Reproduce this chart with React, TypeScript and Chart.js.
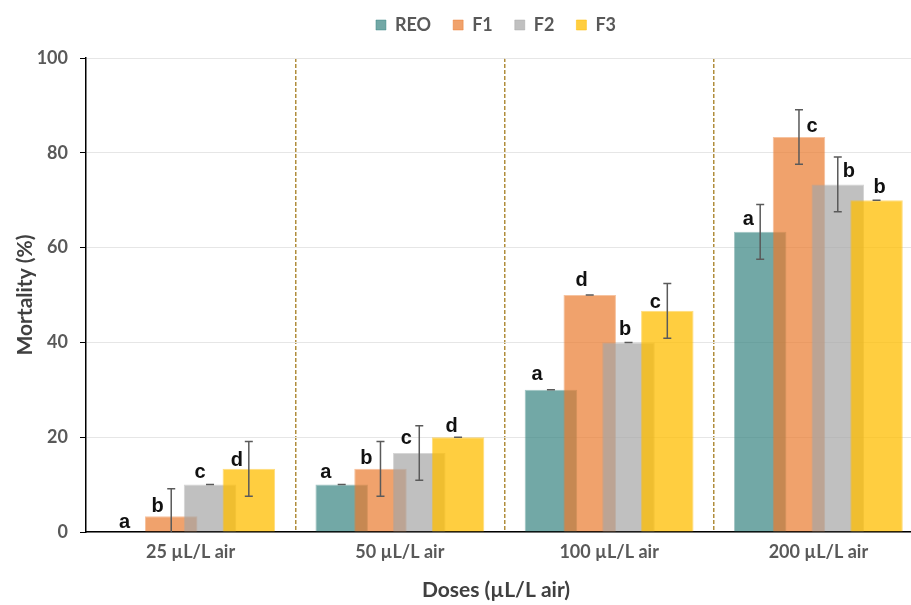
import React, { useEffect, useRef } from 'react';
import { Chart, registerables } from 'chart.js';

Chart.register(...registerables);

// ---------- data ----------
const doses = ['25 µL/L air', '50 µL/L air', '100 µL/L air', '200 µL/L air'];
const seriesNames = ['REO', 'F1', 'F2', 'F3'];

const reoValues = [0, 10, 30, 63.33];
const f1Values = [3.33, 13.33, 50, 83.33];
const f2Values = [10, 16.67, 40, 73.33];
const f3Values = [13.33, 20, 46.67, 70];

const reoErrors = [0, 0, 0, 5.77];
const f1Errors = [5.77, 5.77, 0, 5.77];
const f2Errors = [0, 5.77, 0, 5.77];
const f3Errors = [5.77, 0, 5.77, 0];

const reoLetters = ['a', 'a', 'a', 'a'];
const f1Letters = ['b', 'b', 'd', 'c'];
const f2Letters = ['c', 'c', 'b', 'b'];
const f3Letters = ['d', 'd', 'c', 'b'];

const yTickValues = [0, 20, 40, 60, 80, 100];

// ---------- styles ----------
const fills = ['rgba(54,131,128,0.7)', 'rgba(234,122,45,0.7)', 'rgba(165,165,165,0.7)', 'rgba(255,190,0,0.75)'];
const edges = ['rgba(54,131,128,0.45)', 'rgba(234,122,45,0.45)', 'rgba(165,165,165,0.45)', 'rgba(255,190,0,0.5)'];
// letter label placement (px offset from bar centre, px gap of baseline above bar top)
const letterDx = [
  [-8, -16, -14, -12],
  [-13.5, -14, -8, 13],
  [-10, -13, -3.5, 11],
  [-12, -6.5, -12, 3],
];
const letterGap = [
  [4, 6.5, 10, 6.7],
  [4, 5, 9, 5],
  [6.5, 9, 7, 7.7],
  [3, 5, 2.4, 7],
];

const valueSets = [reoValues, f1Values, f2Values, f3Values];
const errorSets = [reoErrors, f1Errors, f2Errors, f3Errors];
const letterSets = [reoLetters, f1Letters, f2Letters, f3Letters];

const FONT = 'Lato, "Open Sans", sans-serif';

const drawPlugin = {
  id: 'orderedBarsWithErrors',
  beforeDatasetsDraw(chart: any) {
    const { ctx, chartArea: a } = chart;
    const yScale = chart.scales.y;
    ctx.save();
    ctx.beginPath();
    ctx.rect(a.left, a.top, a.right - a.left, a.bottom - a.top);
    ctx.clip();
    // draw series in natural order so later series lie on top
    chart.data.datasets.forEach((_: any, i: number) => {
      if (chart.isDatasetVisible(i)) chart.getDatasetMeta(i).controller.draw();
    });
    // error bars
    ctx.strokeStyle = '#5a5a5a';
    ctx.lineWidth = 1.5;
    chart.data.datasets.forEach((_: any, i: number) => {
      const meta = chart.getDatasetMeta(i);
      meta.data.forEach((bar: any, j: number) => {
        const v = valueSets[i][j];
        const e = errorSets[i][j];
        if (i === 0 && v === 0) return;
        const x = bar.x;
        const yHi = yScale.getPixelForValue(v + e);
        const yLo = yScale.getPixelForValue(v - e);
        ctx.beginPath();
        ctx.moveTo(x, yHi);
        ctx.lineTo(x, yLo);
        ctx.moveTo(x - 4, yHi);
        ctx.lineTo(x + 4, yHi);
        ctx.moveTo(x - 4, yLo);
        ctx.lineTo(x + 4, yLo);
        ctx.stroke();
      });
    });
    ctx.restore();
    // letters
    ctx.save();
    ctx.fillStyle = '#111';
    ctx.font = 'bold 20px "Liberation Sans", Arial, sans-serif';
    ctx.textAlign = 'center';
    ctx.textBaseline = 'alphabetic';
    chart.data.datasets.forEach((_: any, i: number) => {
      const meta = chart.getDatasetMeta(i);
      meta.data.forEach((bar: any, j: number) => {
        const top = yScale.getPixelForValue(valueSets[i][j]);
        ctx.fillText(letterSets[i][j], bar.x + letterDx[i][j], top - letterGap[i][j]);
      });
    });
    ctx.restore();
    return false;
  },
};

export default function App() {
  const ref = useRef<HTMLCanvasElement | null>(null);

  useEffect(() => {
    if (!ref.current) return;
    Chart.defaults.font.family = FONT;
    const chart = new Chart(ref.current, {
      type: 'bar',
      data: {
        labels: doses,
        datasets: seriesNames.map((name, i) => ({
          label: name,
          data: valueSets[i],
          backgroundColor: fills[i],
          borderColor: edges[i],
          borderWidth: 1,
          categoryPercentage: 0.7415,
          barPercentage: 1.353,
        })),
      },
      options: {
        responsive: false,
        animation: false,
        devicePixelRatio: 1,
        layout: { padding: { top: -6, left: 0, right: 0, bottom: 0 } },
        plugins: {
          tooltip: { enabled: false },
          legend: {
            position: 'top',
            weight: 3000,
            labels: {
              boxWidth: 10,
              boxHeight: 10,
              padding: 22,
              color: '#595959',
              font: { family: FONT, size: 18, weight: 'bold' },
            },
          } as any,
          subtitle: {
            display: true,
            text: '',
            position: 'top',
            font: { size: 10, lineHeight: 1 },
            padding: { top: 0, bottom: 4 },
          },
          title: {
            display: true,
            text: 'Doses (µL/L air)',
            position: 'bottom',
            color: '#404040',
            font: { family: FONT, size: 21, weight: 'bold', lineHeight: 1.2 },
            padding: { top: 5.8, bottom: 2.4 },
          },
        },
        scales: {
          x: {
            type: 'category',
            grid: {
              offset: true,
              drawTicks: false,
              lineWidth: 1.5,
              color: (c: any) => (c.index === 0 || c.index === doses.length ? 'rgba(0,0,0,0)' : '#b08d3c'),
            },
            border: { display: true, color: '#000', width: 1.5, dash: [4, 2] },
            ticks: {
              padding: 9,
              color: '#595959',
              font: { family: FONT, size: 18, weight: 'bold' },
            },
          },
          y: {
            type: 'linear',
            min: 0,
            max: 100,
            afterBuildTicks: (s: any) => {
              s.ticks = yTickValues.map((v) => ({ value: v }));
            },
            afterFit: (s: any) => {
              s.width = 86;
            },
            grid: { color: '#e6e6e6', lineWidth: 1, tickColor: '#000', tickLength: 6 },
            border: { display: true, color: '#000', width: 1.5 },
            ticks: {
              padding: 12,
              color: '#595959',
              font: { family: FONT, size: 18, weight: 'bold' },
            },
            title: {
              display: true,
              text: 'Mortality (%)',
              color: '#404040',
              font: { family: FONT, size: 21, weight: 'bold', lineHeight: 1.2 },
              padding: { top: 12.4, bottom: 0 },
            },
          },
          yRight: {
            type: 'linear',
            position: 'right',
            display: true,
            grid: { display: false },
            border: { display: false },
            ticks: { display: false },
            afterFit: (s: any) => {
              s.width = 69;
            },
          },
        },
      } as any,
      plugins: [drawPlugin],
    });
    return () => chart.destroy();
  }, []);

  return (
    <div style={{ position: 'absolute', left: 0, top: 0, width: 911, height: 605, overflow: 'hidden', background: '#fff' }}>
      <canvas ref={ref} width={992} height={605} style={{ display: 'block', width: 992, height: 605 }} />
    </div>
  );
}
